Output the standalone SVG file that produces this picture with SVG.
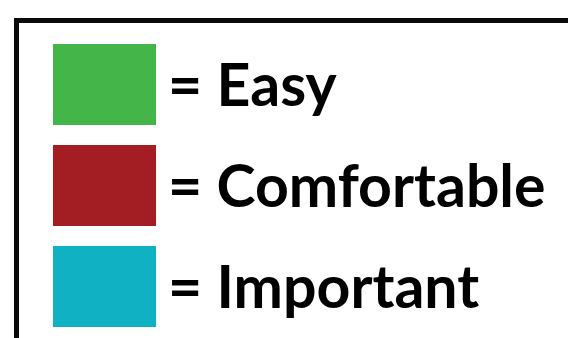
<svg xmlns="http://www.w3.org/2000/svg" width="568" height="338" viewBox="0 0 568 338">
<style>
.lbl{font-family:Lato,"Open Sans","Liberation Sans",sans-serif;font-weight:bold;font-size:59px;fill:#000}
</style>
<rect width="568" height="338" fill="#fff"/>
<g id="frame"><path d="M16.5,340 V20.5 H570" fill="none" stroke="#0a0a0a" stroke-width="5"/></g>
<g id="easy"><rect x="53" y="44" width="103" height="81" fill="#44b649"/><text class="lbl" x="168" y="106">= Easy</text></g>
<g id="comfortable"><rect x="53" y="145" width="103" height="81" fill="#a31e23"/><text class="lbl" x="168" y="207">= Comfortable</text></g>
<g id="important"><rect x="53" y="246" width="103" height="81" fill="#0fb1c3"/><text class="lbl" x="168" y="308">= Important</text></g>
</svg>
